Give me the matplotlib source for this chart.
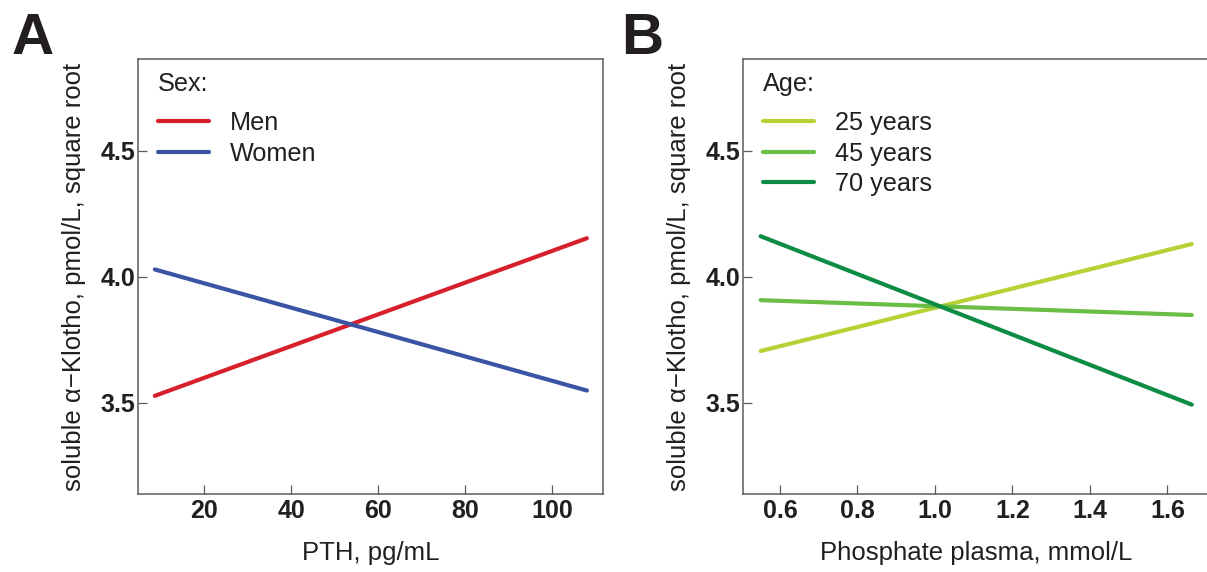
import matplotlib
matplotlib.use("Agg")
import matplotlib.pyplot as plt

plt.rcParams['font.family'] = ['Liberation Sans', 'DejaVu Sans']

# ---- data ----
pth_x = [8.7, 108.0]
men_y = [3.527, 4.153]
women_y = [4.029, 3.548]
sex_labels = ["Men", "Women"]
sex_colors = ["#d7202b", "#3a53a4"]

phos_x = [0.55, 1.663]
age25_y = [3.705, 4.130]
age45_y = [3.907, 3.848]
age70_y = [4.161, 3.492]
age_labels = ["25 years", "45 years", "70 years"]
age_colors = ["#b5d334", "#6abd45", "#0c8c44"]

yticks = [3.5, 4.0, 4.5]
ytick_labels = ["3.5", "4.0", "4.5"]
xticks_a = [20, 40, 60, 80, 100]
xticks_b = [0.6, 0.8, 1.0, 1.2, 1.4, 1.6]
xtick_labels_b = ["0.6", "0.8", "1.0", "1.2", "1.4", "1.6"]

W, H = 1207, 572
fig = plt.figure(figsize=(W / 100, H / 100), dpi=100)

def px_axes(l, r, t, b):
    return [l / W, 1 - b / H, (r - l) / W, (b - t) / H]

axA = fig.add_axes(px_axes(138, 603, 59, 494))
axB = fig.add_axes(px_axes(743, 1210, 59, 494))

TXT = "#231f20"
SP = "#5c5c5c"
LW = 3.0

axA.plot(pth_x, men_y, color=sex_colors[0], lw=LW, label=sex_labels[0], solid_capstyle='round')
axA.plot(pth_x, women_y, color=sex_colors[1], lw=LW, label=sex_labels[1], solid_capstyle='round')
axA.set_xlim(4.83, 111.7)
axA.set_xticks(xticks_a)
axA.set_xticklabels([str(v) for v in xticks_a])
axA.set_xlabel("PTH, pg/mL")

for yv, c, lab in zip([age25_y, age45_y, age70_y], age_colors, age_labels):
    axB.plot(phos_x, yv, color=c, lw=LW, label=lab, solid_capstyle='round')
axB.set_xlim(0.5045, 1.71)
axB.set_xticks(xticks_b)
axB.set_xticklabels(xtick_labels_b)
axB.set_xlabel("Phosphate plasma, mmol/L")

LS = 0.26
for ax, title in [(axA, "Sex:"), (axB, "Age:")]:
    ax.set_ylim(3.137, 4.865)
    ax.set_yticks(yticks)
    ax.set_yticklabels(ytick_labels)
    for s in ax.spines.values():
        s.set_color(SP)
        s.set_linewidth(1.1)
    ax.tick_params(direction='in', length=6.5, width=0.9, color=SP,
                   labelsize=18, labelcolor=TXT)
    ax.tick_params(axis='x', pad=3.6)
    ax.tick_params(axis='y', pad=2.2)
    for lbl in ax.get_xticklabels() + ax.get_yticklabels():
        lbl.set_fontweight('bold')
    ax.set_ylabel("soluble \u03b1\u2212Klotho, pmol/L, square root", fontsize=18.5, color=TXT)
    ax.yaxis.label.set_va('center')
    ax.yaxis.set_label_coords(-64 / 465, 0.5)
    ax.xaxis.label.set_fontsize(18.5)
    ax.xaxis.label.set_color(TXT)
    ax.xaxis.label.set_va('baseline')
    ax.xaxis.set_label_coords(0.5, (494 - 560) / 435)
    leg = ax.legend(title=title, loc='upper left', bbox_to_anchor=(20 / 465, 1 - 13 / 435),
                    frameon=False, fontsize=18.2, title_fontsize=18.2, alignment='left',
                    handlelength=2.0, handletextpad=0.85, labelspacing=LS,
                    borderpad=0, borderaxespad=0)
    # extra gap between legend title and first entry
    leg._legend_box.sep = LS * 18.2 + 6.2
    for t in leg.get_texts():
        t.set_color(TXT)
    leg.get_title().set_color(TXT)

fig.text(12 / W, 1 - 54 / H, "A", fontsize=42, fontweight='bold', color=TXT, va='baseline', ha='left')
fig.text(621 / W, 1 - 54 / H, "B", fontsize=42, fontweight='bold', color=TXT, va='baseline', ha='left')

fig.savefig("out.png", dpi=100)
